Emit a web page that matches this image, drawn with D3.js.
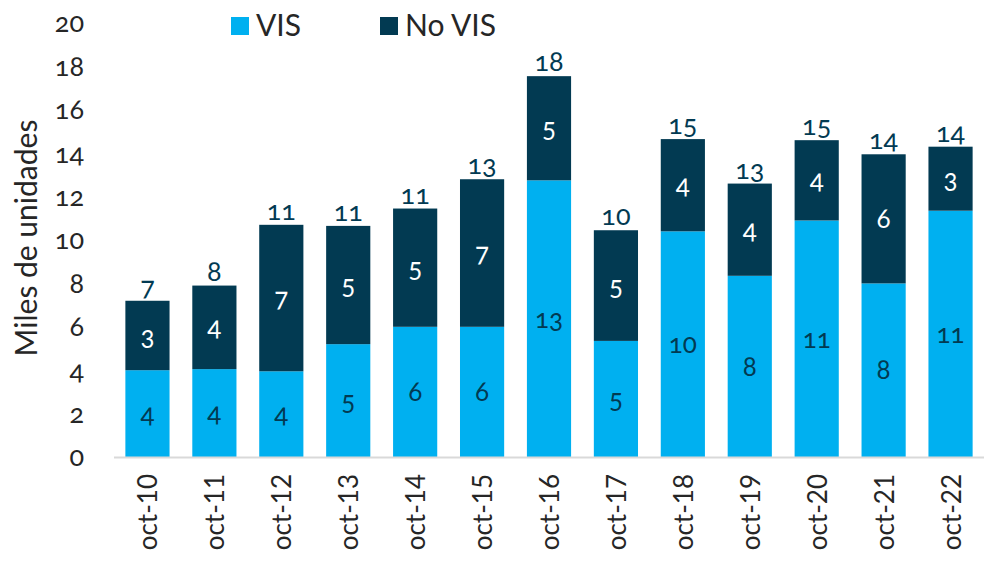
<!DOCTYPE html>
<html><head><meta charset="utf-8">
<script src="https://cdn.jsdelivr.net/npm/d3@7"></script>
<style>
body{margin:0;background:#fff;}
text{font-family:Lato,"Open Sans",sans-serif;}
.num{font-feature-settings:"onum" 1;}
</style></head>
<body><svg id="c" width="1006" height="562"></svg>
<script>
const categories=["oct-10","oct-11","oct-12","oct-13","oct-14","oct-15","oct-16","oct-17","oct-18","oct-19","oct-20","oct-21","oct-22"];
const vis=[4.0,4.05,3.95,5.2,6.0,6.0,12.75,5.35,10.4,8.35,10.9,8.0,11.35];
const noVis=[3.2,3.85,6.75,5.45,5.45,6.8,4.8,5.1,4.25,4.25,3.7,5.95,2.95];
const yTicks=[0,2,4,6,8,10,12,14,16,18,20];
const seriesNames=["VIS","No VIS"];
const colors=["#00B0F0","#023A52"];

const svg=d3.select("#c");
const x=d3.scaleBand().domain(categories).range([114,984]).paddingInner(0.34).paddingOuter(0.17);
const y=d3.scaleLinear().domain([0,20]).range([457,23]);

// y tick labels
svg.append("g").selectAll("text").data(yTicks).join("text").attr("class","num")
 .attr("x",84).attr("y",d=>y(d)).attr("dy","0.35em").attr("text-anchor","end")
 .attr("font-size",27).attr("fill","#262626").text(d=>d);

// y title
svg.append("text").attr("transform","translate(37,238) rotate(-90)")
 .attr("text-anchor","middle").attr("font-size",30).attr("fill","#262626").text("Miles de unidades");

const data=categories.map((c,i)=>({c,vis:vis[i],nov:noVis[i],tot:vis[i]+noVis[i]}));
const g=svg.append("g");
g.selectAll("rect.v").data(data).join("rect").attr("class","v")
 .attr("x",d=>x(d.c)).attr("width",x.bandwidth())
 .attr("y",d=>y(d.vis)).attr("height",d=>y(0)-y(d.vis)).attr("fill",colors[0]);
g.selectAll("rect.n").data(data).join("rect").attr("class","n")
 .attr("x",d=>x(d.c)).attr("width",x.bandwidth())
 .attr("y",d=>y(d.tot)).attr("height",d=>y(d.vis)-y(d.tot)).attr("fill",colors[1]);

// axis line
svg.append("line").attr("x1",114).attr("x2",984).attr("y1",457.5).attr("y2",457.5)
 .attr("stroke","#d9d9d9").attr("stroke-width",2);

// labels
const cx=d=>x(d.c)+x.bandwidth()/2;
g.selectAll("text.lv").data(data).join("text").attr("class","num")
 .attr("x",cx).attr("y",d=>(y(0)+y(d.vis))/2).attr("dy","0.35em").attr("text-anchor","middle")
 .attr("font-size",26).attr("fill",colors[1]).text(d=>Math.round(d.vis));
g.selectAll("text.ln").data(data).join("text").attr("class","num")
 .attr("x",cx).attr("y",d=>(y(d.vis)+y(d.tot))/2).attr("dy","0.35em").attr("text-anchor","middle")
 .attr("font-size",26).attr("fill","#fff").text(d=>Math.round(d.nov));
g.selectAll("text.lt").data(data).join("text").attr("class","num")
 .attr("x",cx).attr("y",d=>y(d.tot)-5).attr("text-anchor","middle")
 .attr("font-size",27).attr("fill",colors[1]).text(d=>Math.round(d.tot));

// x labels
svg.append("g").selectAll("text").data(categories).join("text")
 .attr("transform",d=>`translate(${x(d)+x.bandwidth()/2+10},474) rotate(-90)`)
 .attr("text-anchor","end").attr("font-size",26).attr("fill","#262626").text(d=>d);

// legend
const lg=svg.append("g");
const lx=[231,380];
seriesNames.forEach((s,i)=>{
 lg.append("rect").attr("x",lx[i]).attr("y",17).attr("width",18).attr("height",18).attr("fill",colors[i]);
 lg.append("text").attr("x",lx[i]+25).attr("y",25).attr("dy","0.35em").attr("font-size",30).attr("fill","#262626").text(s);
});
</script></body></html>
